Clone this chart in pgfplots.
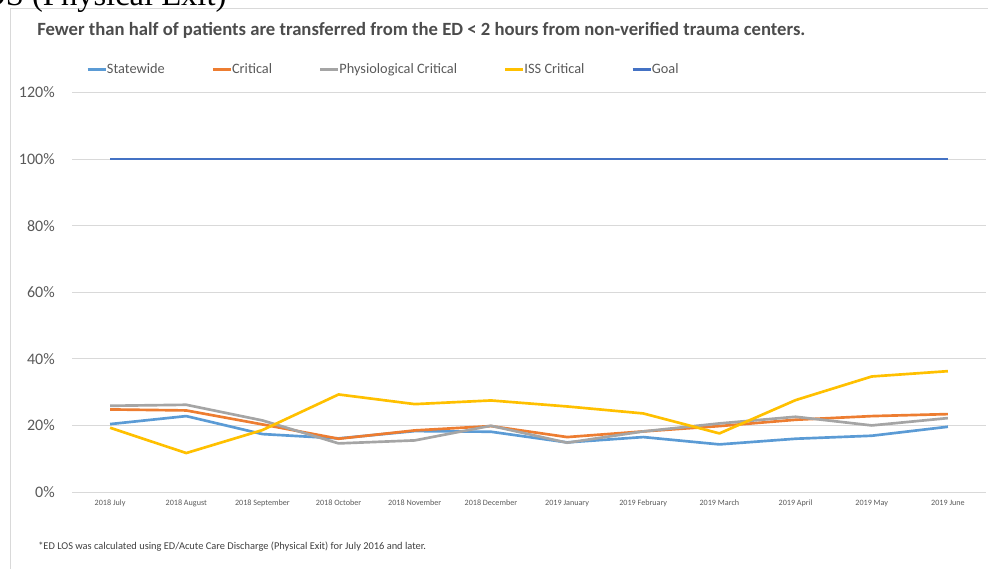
\documentclass[border=0pt]{standalone}
\usepackage{fontspec}
\setmainfont{Carlito}
\newfontfamily\timesfont{Liberation Serif}
\usepackage{pgfplots}
\usepackage{pgfplotstable}
\pgfplotsset{compat=1.18}
\definecolor{txt}{HTML}{595959}
\definecolor{gridc}{HTML}{D9D9D9}
\definecolor{cState}{HTML}{5B9BD5}
\definecolor{cCrit}{HTML}{ED7D31}
\definecolor{cPhys}{HTML}{A5A5A5}
\definecolor{cISS}{HTML}{FFC000}
\definecolor{cGoal}{HTML}{4472C4}

\pgfplotstableread{
x state crit phys iss goal
0  20.4 24.8 25.9 19.3 100
1  22.8 24.5 26.2 11.7 100
2  17.4 20.3 21.5 18.6 100
3  16.1 16.0 14.6 29.3 100
4  18.3 18.5 15.5 26.4 100
5  18.1 19.8 19.9 27.5 100
6  14.9 16.5 14.8 25.7 100
7  16.5 18.2 18.2 23.6 100
8  14.3 19.8 20.6 17.6 100
9  16.0 21.7 22.6 27.6 100
10 16.9 22.8 20.0 34.7 100
11 19.6 23.4 22.2 36.3 100
}\datatable

\begin{document}
\begin{tikzpicture}[x=1pt,y=1pt]
\useasboundingbox (0,0) rectangle (741,426);
\draw[gridc, line width=0.75pt] (7.5,-5) -- (7.5,419.25) -- (750,419.25);
\node[anchor=base east, inner sep=0pt, font=\timesfont\fontsize{24.4}{28}\selectfont] at (170,421.5) {ED LOS (Physical Exit)};
\node[anchor=base west, inner sep=0pt, text=black!70, font=\bfseries\fontsize{14}{16}\selectfont] at (27.75,399) {Fewer than half of patients are transferred from the ED < 2 hours from non-verified trauma centers.};
\node[anchor=base west, inner sep=0pt, text=black!75, font=\fontsize{7.8}{9}\selectfont] at (28.5,14.25) {*ED LOS was calculated using ED/Acute Care Discharge (Physical Exit) for July 2016 and later.};
\begin{axis}[
  at={(54pt,57pt)}, anchor=south west,
  scale only axis, width=685.5pt, height=299.6pt,
  xmin=-0.5, xmax=11.5, ymin=0, ymax=120,
  axis line style={draw=none},
  major tick length=0pt,
  ytick={0,20,...,120},
  ymajorgrids, grid style={gridc, line width=0.75pt},
  yticklabel={\pgfmathprintnumber{\tick}\%},
  /pgf/number format/assume math mode=true,
  yticklabel style={anchor=east, inner sep=0pt, xshift=-12.75pt, text=txt, font=\fontsize{12}{14}\selectfont},
  xtick={0,...,11},
  xticklabels={2018 July,2018 August,2018 September,2018 October,2018 November,2018 December,2019 January,2019 February,2019 March,2019 April,2019 May,2019 June},
  xticklabel style={anchor=north, inner sep=0pt, yshift=-6pt, text=txt, font=\fontsize{6.1}{7}\selectfont},
  legend columns=-1,
  legend image code/.code={\draw[#1] (0pt,0pt) -- (13.5pt,0pt);},
  legend style={at={(axis description cs:0.0153,1.0575)}, anchor=west, draw=none, fill=none, inner sep=0pt,
    font=\fontsize{10.75}{12}\selectfont, text=txt,
    nodes={inner sep=0pt},
    /tikz/every even column/.append style={column sep=35pt}},
  every axis plot/.append style={line width=2pt, line join=round},
]
\addplot[cState] table[x=x,y=state] {\datatable};
\addplot[cCrit] table[x=x,y=crit] {\datatable};
\addplot[cPhys] table[x=x,y=phys] {\datatable};
\addplot[cISS] table[x=x,y=iss] {\datatable};
\addplot[cGoal] table[x=x,y=goal] {\datatable};
\legend{Statewide,Critical,Physiological Critical,ISS Critical,Goal}
\end{axis}
\end{tikzpicture}
\end{document}
